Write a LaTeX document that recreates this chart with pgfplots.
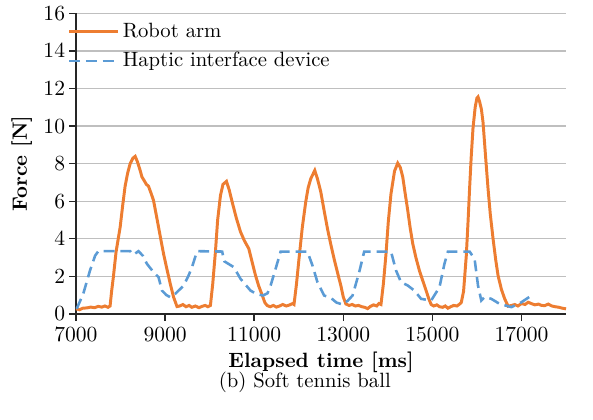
\documentclass[border=0pt]{standalone}
\usepackage{pgfplots}
\pgfplotsset{compat=1.18}
\definecolor{exorange}{HTML}{ED7D31}
\definecolor{exblue}{HTML}{5B9BD5}
\begin{document}
\begin{tikzpicture}[font=\fontsize{10.5}{12.6}\selectfont]
\begin{axis}[
  scale only axis, width=248bp, height=152bp,
  xmin=7000, xmax=18000, ymin=0, ymax=16,
  xtick={7000,9000,...,17000}, ytick={0,2,...,16},
  scaled ticks=false,
  axis x line=bottom, axis y line=left,
  axis line style={-, black!85, line width=0.7bp},
  tick align=outside, major tick length=3.5bp,
  tick style={black!85, line width=0.7bp},
  ymajorgrids, grid style={black!25, line width=0.7bp},
  xticklabel style={/pgf/number format/fixed, /pgf/number format/1000 sep={}},
  yticklabel style={xshift=1.5bp},
  xlabel={\textbf{Elapsed time [ms]}}, ylabel={\textbf{Force [N]}},
  xlabel style={yshift=1.5bp}, ylabel style={yshift=-1bp},
  clip=false,
  legend style={at={(rel axis cs:-0.03,0.993)}, anchor=north west, draw=none, fill=none,
    row sep=3bp, nodes={inner sep=1.5bp}},
  legend cell align=left,
  legend image code/.code={\draw[#1] (0bp,0bp) -- (25bp,0bp);},
]
\addplot[exorange, line width=1.5bp] coordinates {
(7000,0.27) (7080,0.22) (7150,0.3) (7250,0.32) (7330,0.36) (7420,0.33) (7500,0.4) (7580,0.36) (7650,0.42) (7720,0.35) (7766,0.42)
(7800,1.2) (7840,1.97) (7900,3.3) (7991,4.6) (8050,5.8) (8103,6.8) (8160,7.5) (8216,8.0) (8280,8.3) (8329,8.39) (8380,8.1)
(8441,7.64) (8480,7.3) (8531,7.1) (8580,6.9) (8628,6.8) (8690,6.4) (8741,6.04) (8800,5.3) (8853,4.63) (8910,3.9) (8966,3.2)
(9040,2.4) (9117,1.6) (9190,0.9) (9268,0.39) (9330,0.42) (9400,0.5) (9470,0.38) (9540,0.45) (9600,0.35) (9680,0.42) (9760,0.33)
(9830,0.4) (9900,0.45) (9960,0.38) (10018,0.45) (10070,1.6) (10130,3.3) (10180,5.0) (10243,6.3) (10300,6.9) (10378,7.06)
(10440,6.6) (10506,5.96) (10600,5.1) (10693,4.37) (10780,3.9) (10880,3.47) (10950,2.8) (11031,2.04) (11100,1.5) (11182,0.98)
(11240,0.6) (11294,0.44) (11360,0.38) (11430,0.45) (11500,0.36) (11570,0.42) (11640,0.5) (11720,0.42) (11800,0.48) (11860,0.55)
(11894,0.5) (11950,1.6) (12006,2.93) (12080,4.6) (12157,5.96) (12210,6.7) (12270,7.2) (12360,7.64) (12420,7.2) (12495,6.5)
(12570,5.5) (12646,4.53) (12720,3.7) (12794,2.93) (12870,2.2) (12945,1.51) (13000,0.9) (13058,0.53) (13130,0.45) (13200,0.5)
(13270,0.42) (13340,0.45) (13420,0.38) (13480,0.35) (13546,0.28) (13610,0.4) (13680,0.48) (13750,0.42) (13800,0.55) (13846,0.5)
(13900,1.6) (13959,3.2) (14010,4.9) (14071,6.4) (14150,7.6) (14222,8.03) (14280,7.8) (14335,7.29) (14390,6.4) (14447,5.51)
(14500,4.6) (14560,3.73) (14630,3.0) (14708,2.31) (14780,1.8) (14859,1.24) (14920,0.8) (14972,0.5) (15030,0.42) (15100,0.48)
(15160,0.38) (15230,0.35) (15290,0.42) (15348,0.3) (15410,0.38) (15480,0.45) (15550,0.42) (15600,0.5) (15648,0.6) (15700,1.2)
(15761,3.1) (15800,4.9) (15835,6.67) (15870,8.3) (15911,9.87) (15960,11.0) (16000,11.5) (16024,11.56) (16060,11.3) (16100,10.9)
(16137,10.2) (16190,8.5) (16249,6.67) (16300,5.3) (16362,4.0) (16420,2.9) (16474,2.04) (16550,1.3) (16623,0.8) (16700,0.41)
(16780,0.45) (16850,0.5) (16920,0.42) (17000,0.55) (17080,0.5) (17150,0.62) (17220,0.55) (17300,0.48) (17380,0.52) (17450,0.45)
(17523,0.44) (17600,0.52) (17680,0.42) (17760,0.38) (17840,0.35) (17920,0.3) (18000,0.27)
};
\addlegendentry{Robot arm}
\addplot[exblue, line width=1.3bp, dash pattern=on 5.5bp off 3bp] coordinates {
(7016,0.27) (7164,1.07) (7315,2.31) (7430,3.1) (7502,3.34) (8216,3.34) (8290,3.15) (8403,3.34) (8500,3.1) (8592,2.67)
(8741,2.22) (8853,1.96) (8930,1.24) (9030,1.0) (9117,0.89) (9229,1.07) (9416,1.5) (9520,2.0) (9606,2.5) (9718,3.34)
(10281,3.32) (10330,2.8) (10542,2.49) (10693,1.87) (10918,1.24) (11060,1.05) (11200,0.98) (11300,1.1) (11369,1.51) (11481,2.4)
(11594,3.32) (12195,3.32) (12308,2.58) (12420,1.69) (12569,0.98) (12720,0.85) (12850,0.6) (12983,0.5) (13100,0.7) (13209,0.98)
(13357,2.22) (13470,3.32) (14071,3.32) (14184,2.31) (14296,1.69) (14447,1.51) (14596,1.24) (14747,0.8) (14972,0.71) (15159,1.42)
(15271,2.67) (15348,3.32) (15835,3.32) (15947,2.93) (16024,1.51) (16098,0.71) (16172,0.9) (16323,0.8) (16510,0.53) (16774,0.36)
(16999,0.62) (17224,0.98)
};
\addlegendentry{Haptic interface device}
\node at (rel axis cs:0.467,-0.227) {(b) Soft tennis ball};
\coordinate (bl) at (rel axis cs:-0.155,-0.35);
\coordinate (tr) at (rel axis cs:1.055,1.033);
\end{axis}
\path (bl) rectangle (tr);
\end{tikzpicture}
\end{document}
